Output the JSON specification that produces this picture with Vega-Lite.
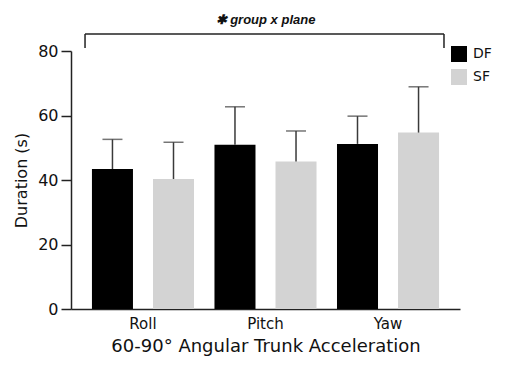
{
  "$schema": "https://vega.github.io/schema/vega-lite/v6.json",
  "width": 389,
  "height": 258,
  "autosize": {"type": "none"},
  "padding": {"left": 71, "top": 51, "right": 46, "bottom": 57},
  "background": "white",
  "config": {"view": {"stroke": null}},
  "datasets": {
    "bars": [
      {"plane": "Roll", "group": "DF", "mean": 43.4, "upper": 52.6},
      {"plane": "Roll", "group": "SF", "mean": 40.3, "upper": 51.7},
      {"plane": "Pitch", "group": "DF", "mean": 50.9, "upper": 62.7},
      {"plane": "Pitch", "group": "SF", "mean": 45.7, "upper": 55.2},
      {"plane": "Yaw", "group": "DF", "mean": 51.2, "upper": 59.8},
      {"plane": "Yaw", "group": "SF", "mean": 54.7, "upper": 68.9}
    ],
    "bracket": [
      {"x": 0.527, "x2": 3.457, "y": 85.3, "y2": 85.3},
      {"x": 0.527, "x2": 0.527, "y": 85.3, "y2": 80.9},
      {"x": 3.457, "x2": 3.457, "y": 85.3, "y2": 80.9}
    ],
    "label": [
      {"x": 2, "y": 89.6, "text": "✱ group x plane"}
    ]
  },
  "layer": [
    {
      "data": {"name": "bars"},
      "encoding": {
        "x": {
          "field": "plane", "type": "nominal", "sort": ["Roll", "Pitch", "Yaw"],
          "scale": {"paddingInner": 0.167, "paddingOuter": 0.171},
          "axis": {
            "title": "60-90° Angular Trunk Acceleration",
            "ticks": false, "labelAngle": 0,
            "labelFont": "DejaVu Sans", "labelFontSize": 15, "labelColor": "#111",
            "labelPadding": 7,
            "titleFont": "DejaVu Sans", "titleFontSize": 18, "titleFontWeight": "normal",
            "titleColor": "#111", "titlePadding": 6,
            "domainColor": "#222", "domainWidth": 1.5
          }
        },
        "xOffset": {
          "field": "group", "type": "nominal", "sort": ["DF", "SF"],
          "scale": {"paddingInner": 0.328, "paddingOuter": 0}
        },
        "y": {
          "type": "quantitative",
          "scale": {"domain": [0, 80], "nice": false, "zero": true}
        }
      },
      "layer": [
        {
          "mark": {"type": "bar"},
          "encoding": {
            "y": {
              "field": "mean", "type": "quantitative",
              "axis": {
                "title": "Duration (s)",
                "values": [0, 10, 20, 30, 40, 50, 60, 70, 80],
                "labelExpr": "datum.value % 20 == 0 ? datum.label : ''",
                "tickSize": {"condition": {"test": "datum.value % 20 == 0", "value": 10}, "value": 5},
                "grid": false,
                "labelFont": "DejaVu Sans", "labelFontSize": 16, "labelColor": "#111",
                "labelPadding": 3,
                "titleFont": "DejaVu Sans", "titleFontSize": 16, "titleFontWeight": "normal",
                "titleColor": "#111", "titlePadding": 8,
                "domainColor": "#222", "domainWidth": 1.5,
                "tickColor": "#222", "tickWidth": 1.5
              }
            },
            "color": {
              "field": "group", "type": "nominal",
              "scale": {"domain": ["DF", "SF"], "range": ["#000000", "#d3d3d3"]},
              "legend": {
                "title": null, "orient": "none", "legendX": 380, "legendY": -5,
                "symbolType": "square", "symbolSize": 256, "symbolStrokeWidth": 0,
                "symbolOpacity": 1,
                "labelFont": "DejaVu Sans", "labelFontSize": 14, "labelColor": "#111",
                "labelOffset": 6, "rowPadding": 7, "padding": 0
              }
            }
          }
        },
        {
          "mark": {"type": "rule", "color": "#3a3a3a", "strokeWidth": 1.5},
          "encoding": {
            "y": {"field": "mean", "type": "quantitative"},
            "y2": {"field": "upper"}
          }
        },
        {
          "mark": {"type": "tick", "color": "#3a3a3a", "thickness": 1.5, "size": 20, "orient": "horizontal"},
          "encoding": {
            "y": {"field": "upper", "type": "quantitative"}
          }
        }
      ]
    },
    {
      "layer": [
        {
          "data": {"name": "bracket"},
          "mark": {"type": "rule", "color": "#222", "strokeWidth": 1.5},
          "encoding": {
            "x": {"field": "x", "type": "quantitative", "scale": {"domain": [0.4125, 3.5877], "nice": false, "zero": false}, "axis": null},
            "x2": {"field": "x2"},
            "y": {"field": "y", "type": "quantitative"},
            "y2": {"field": "y2"}
          }
        },
        {
          "data": {"name": "label"},
          "mark": {"type": "text", "font": "Liberation Sans", "fontSize": 13, "fontWeight": "bold", "fontStyle": "italic", "color": "#111", "baseline": "middle", "align": "center"},
          "encoding": {
            "x": {"field": "x", "type": "quantitative", "scale": {"domain": [0.4125, 3.5877], "nice": false, "zero": false}, "axis": null},
            "y": {"field": "y", "type": "quantitative"},
            "text": {"field": "text"}
          }
        }
      ]
    }
  ],
  "resolve": {"scale": {"x": "independent"}, "axis": {"x": "independent"}}
}
